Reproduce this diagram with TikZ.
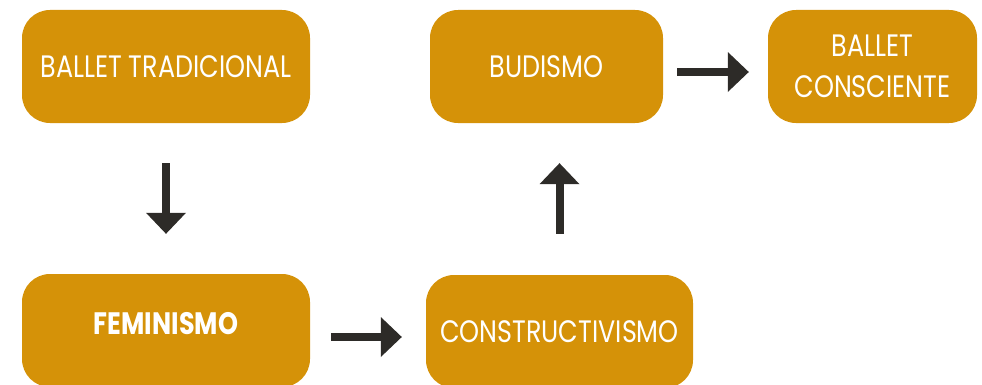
\documentclass[tikz,border=0pt]{standalone}
\usepackage{fontspec}
\setmainfont{Poppins}[FakeStretch=0.82]
\usetikzlibrary{arrows.meta,calc}
\definecolor{ocre}{RGB}{213,146,8}
\definecolor{gristinta}{RGB}{45,43,40}

\begin{document}
\begin{tikzpicture}[x=1pt,y=1pt,
  caja/.style={fill=ocre,rounded corners=28pt,text=white,inner sep=0pt,
    minimum height=113pt,align=center,font=\fontsize{31}{41}\selectfont},
  paso/.style={line width=8pt,gristinta,
    -{Triangle[width=40pt,length=21pt,line width=0pt]}}]
  \useasboundingbox (0,0) rectangle (982,384);
  % cajas
  \node[caja,minimum width=288pt] (trad) at (166,317.5) {BALLET TRADICIONAL};
  \node[caja,minimum width=233pt] (bud) at (546.5,317.5) {BUDISMO};
  \node[caja,minimum width=209pt] (conc) at (872.5,317.5) {BALLET\\CONSCIENTE};
  \node[caja,minimum width=288pt,text depth=14pt] (fem) at (166,53.5) {\bfseries FEMINISMO};
  \node[caja,minimum width=267pt] (cons) at (559.5,52.5) {CONSTRUCTIVISMO};
  % flechas
  \draw[paso,shorten <=40pt,shorten >=40pt] (trad.south) -- (fem.north);
  \draw[paso,shorten <=21pt,shorten >=24pt] ([yshift=-6.5pt]fem.east) -- ([yshift=-6.5pt]fem.east -| cons.west);
  \draw[paso,shorten <=41pt,shorten >=40pt] (cons.north) -- (cons.north |- bud.south);
  \draw[paso,shorten <=14pt,shorten >=19pt] ([yshift=-5.5pt]bud.east) -- ([yshift=-5.5pt]bud.east -| conc.west);
\end{tikzpicture}
\end{document}
